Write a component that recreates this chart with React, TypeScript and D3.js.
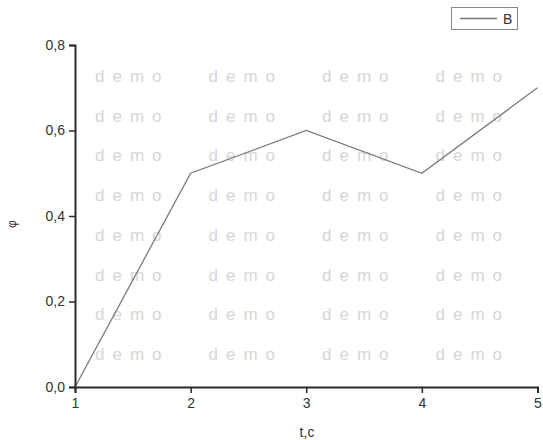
import React, { useEffect, useRef } from 'react';
import * as d3 from 'd3';

// series B
const tValues = [1, 2, 3, 4, 5];
const phiValues = [0, 0.5, 0.6, 0.5, 0.7];
const xTicks = [1, 2, 3, 4, 5];
const yTicks = [0, 0.2, 0.4, 0.6, 0.8];
const seriesName = 'B';
// watermark grid
const markCols = [0, 1, 2, 3];
const markRows = [0, 1, 2, 3, 4, 5, 6, 7];

const fmt = (v: number) => v.toFixed(1).replace('.', ',');

export default function App() {
	const svgRef = useRef<SVGSVGElement>(null);

	useEffect(() => {
		const svg = d3.select(svgRef.current);
		svg.selectAll('*').remove();

		const x = d3.scaleLinear().domain([1, 5]).range([75, 537.5]);
		const y = d3.scaleLinear().domain([0, 0.8]).range([387, 45]);
		const font = 'Arial, "Liberation Sans", sans-serif';

		// demo watermark
		const wm = svg.append('g').attr('fill', '#d6d6d6').style('font-family', font).style('font-size', '17px');
		markRows.forEach((r) => {
			markCols.forEach((c) => {
				wm.append('text')
					.attr('x', 95 + c * 113.5)
					.attr('y', 82 + r * 39.7)
					.style('letter-spacing', '8px')
					.text('demo');
			});
		});

		// line
		const lineGen = d3
			.line<number>()
			.x((_, i) => x(tValues[i]))
			.y((d) => y(d));
		svg.append('path')
			.datum(phiValues)
			.attr('d', lineGen)
			.attr('fill', 'none')
			.attr('stroke', '#7a7a7a')
			.attr('stroke-width', 1.3);

		// x axis
		const gx = svg.append('g').attr('transform', 'translate(0,387)');
		gx.call(
			d3.axisBottom(x).tickValues(d3.range(1, 5.01, 0.5)).tickSize(3).tickFormat(() => '')
		);
		gx.call(
			d3.axisBottom(x).tickValues(xTicks).tickSize(6).tickPadding(5).tickFormat((d) => String(d))
		);
		// y axis
		const gy = svg.append('g').attr('transform', 'translate(75,0)');
		gy.call(
			d3.axisLeft(y).tickValues(d3.range(0, 0.81, 0.1)).tickSize(3).tickFormat(() => '')
		);
		gy.call(
			d3.axisLeft(y).tickValues(yTicks).tickSize(6).tickPadding(4).tickFormat((d) => fmt(+d))
		);
		svg.selectAll('.domain').attr('stroke', '#2a2a2a').attr('stroke-width', 2);
		svg.selectAll('.tick line').attr('stroke', '#2a2a2a').attr('stroke-width', 1.5);
		svg.selectAll('.tick text')
			.attr('fill', '#333')
			.style('font-family', font)
			.style('font-size', '14px');

		// axis titles
		svg.append('text')
			.attr('x', 307)
			.attr('y', 437)
			.attr('text-anchor', 'middle')
			.attr('fill', '#333')
			.style('font-family', font)
			.style('font-size', '14px')
			.text('t,c');
		svg.append('text')
			.attr('transform', 'translate(16,224) rotate(-90)')
			.attr('text-anchor', 'middle')
			.attr('fill', '#333')
			.style('font-family', font)
			.style('font-size', '12px')
			.text('φ');

		// legend
		const lg = svg.append('g');
		lg.append('rect')
			.attr('x', 451.5)
			.attr('y', 7.5)
			.attr('width', 66)
			.attr('height', 22)
			.attr('fill', 'white')
			.attr('stroke', '#888');
		lg.append('line')
			.attr('x1', 460)
			.attr('x2', 497)
			.attr('y1', 18.5)
			.attr('y2', 18.5)
			.attr('stroke', '#7a7a7a')
			.attr('stroke-width', 1.3);
		lg.append('text')
			.attr('x', 503)
			.attr('y', 23.5)
			.attr('fill', '#333')
			.style('font-family', font)
			.style('font-size', '14px')
			.text(seriesName);
	}, []);

	return (
		<svg
			ref={svgRef}
			width={543}
			height={440}
			style={{ position: 'absolute', left: 0, top: 0, background: 'white' }}
		/>
	);
}
